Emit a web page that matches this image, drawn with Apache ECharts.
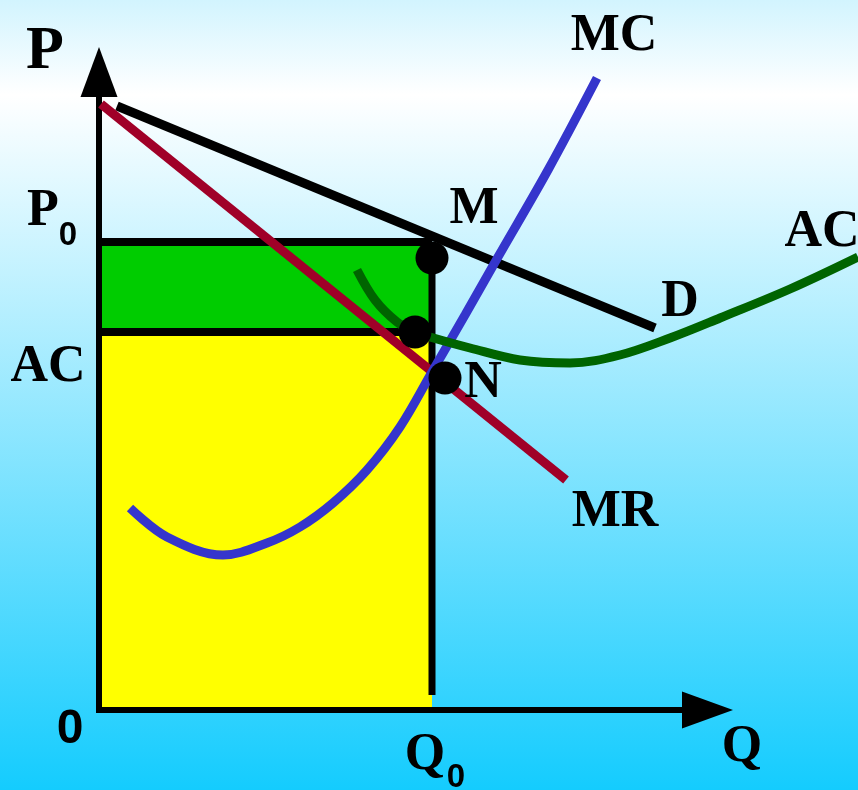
<!DOCTYPE html>
<html>
<head>
<meta charset="utf-8">
<script src="https://cdn.jsdelivr.net/npm/echarts@6/dist/echarts.min.js"></script>
<style>
  html, body { margin: 0; padding: 0; }
  body {
    width: 858px; height: 790px; overflow: hidden;
    background: linear-gradient(to bottom, #d2f4fe 0%, #ffffff 12%, #14ccfe 100%);
  }
  #chart { width: 858px; height: 790px; }
</style>
</head>
<body>
<div id="chart"></div>
<script>
// quantity on x, price on y (one unit = 10 px of the original drawing)
const Q0 = 33.3;
const P0 = 46.8;
const AC0 = 37.8;
const Q0LineBottom = 1.5;

const axisTopQ = [0, 0];
const axisTopP = [-0.3, 61.3];
const axisRightQ = [-0.3, 58.3];
const axisRightP = [0, 0];
const arrowTipQ = [0, 63.4];
const arrowTipP = [66.3, 0];

const demandQ = [1.8, 55.6];
const demandP = [60.4, 38.2];

const mrQ = [0.2, 46.7];
const mrP = [60.6, 23.0];

const mcQ = [3.1, 6.8, 12.4, 16.8, 20.1, 23.4, 26.8, 30.1, 33.3, 36.6, 39.9, 44.9, 49.8];
const mcP = [20.2, 17.3, 15.5, 16.7, 18.3, 20.7, 24.0, 28.3, 33.8, 39.5, 45.3, 54.0, 63.2];

const acQ = [25.8, 27.6, 29.8, 31.6, 33.1, 37.1, 42.1, 47.1, 52.1, 57.1, 62.1, 69.1, 75.9];
const acP = [44.0, 41.0, 38.8, 37.8, 37.3, 36.2, 35.0, 34.7, 35.5, 37.2, 39.2, 42.1, 45.3];

const pointQ = [33.3, 31.6, 34.6];
const pointP = [45.2, 37.8, 33.2];

const labelText = ['P', 'P', '0', 'AC', '0', 'Q', '0', 'Q', 'MC', 'M', 'D', 'AC', 'N', 'MR'];
const labelQ = [-5.4, -5.6, -3.1, -5.1, -2.9, 32.6, 35.7, 64.3, 51.5, 37.5, 58.1, 72.3, 38.4, 51.6];
const labelP = [65.8, 49.8, 47.4, 34.2, -2.0, -4.6, -6.8, -3.8, 67.3, 50.0, 40.7, 47.7, 32.6, 19.7];
const labelKind = ['big', 'serif', 'sub', 'serif', 'sans', 'serif', 'sub', 'serif', 'serif', 'serif', 'serif', 'serif', 'serif', 'serif'];

const zip = (xs, ys) => xs.map((x, i) => [x, ys[i]]);

const fonts = {
  big: { fontFamily: 'Liberation Serif', fontWeight: 'bold', fontSize: 62 },
  serif: { fontFamily: 'Liberation Serif', fontWeight: 'bold', fontSize: 52 },
  sans: { fontFamily: 'Liberation Sans', fontWeight: 'bold', fontSize: 48 },
  sub: { fontFamily: 'Liberation Sans', fontWeight: 'bold', fontSize: 33 }
};

const chart = echarts.init(document.getElementById('chart'));

const lineSeries = (data, color, width, smooth, z) => ({
  type: 'line',
  data: data,
  symbol: 'none',
  smooth: smooth,
  lineStyle: { color: color, width: width, cap: 'butt' },
  silent: true,
  z: z
});

const option = {
  backgroundColor: 'transparent',
  animation: false,
  grid: { left: 0, right: 0, top: 0, bottom: 0 },
  xAxis: { type: 'value', min: -9.9, max: 75.9, show: false },
  yAxis: { type: 'value', min: -8, max: 71, show: false },
  series: [
    // profit / cost rectangles
    {
      type: 'custom',
      data: [[0, 0, Q0, AC0, 0], [0, AC0, Q0, P0, 1]],
      z: 1,
      renderItem: (params, api) => {
        const a = api.coord([api.value(0), api.value(3)]);
        const b = api.coord([api.value(2), api.value(1)]);
        return {
          type: 'rect',
          shape: { x: a[0], y: a[1], width: b[0] - a[0], height: b[1] - a[1] },
          style: { fill: api.value(4) === 0 ? '#ffff00' : '#00cc00' }
        };
      }
    },
    lineSeries([[0, P0], [Q0, P0]], '#000', 8, false, 2),
    lineSeries([[0, AC0], [Q0, AC0]], '#000', 8, false, 2),
    lineSeries([[Q0, P0], [Q0, Q0LineBottom]], '#000', 7, false, 2),
    lineSeries(zip(axisTopQ, axisTopP), '#000', 6, false, 3),
    lineSeries(zip(axisRightQ, axisRightP), '#000', 6, false, 3),
    // arrow heads
    {
      type: 'custom',
      data: [[arrowTipQ[0], arrowTipP[0], 0], [arrowTipQ[1], arrowTipP[1], 1]],
      z: 3,
      renderItem: (params, api) => {
        const p = api.coord([api.value(0), api.value(1)]);
        const pts = api.value(2) === 0
          ? [[p[0], p[1]], [p[0] - 18.5, p[1] + 50], [p[0] + 18.5, p[1] + 50]]
          : [[p[0], p[1]], [p[0] - 51, p[1] - 18.5], [p[0] - 51, p[1] + 18.5]];
        return { type: 'polygon', shape: { points: pts }, style: { fill: '#000' } };
      }
    },
    lineSeries(zip(demandQ, demandP), '#000', 9, false, 4),
    lineSeries(zip(mrQ, mrP), '#a00028', 9, false, 5),
    lineSeries(zip(mcQ, mcP), '#3535cc', 9, 0.35, 6),
    lineSeries(zip(acQ, acP), '#006400', 9, 0.35, 7),
    {
      type: 'scatter',
      data: zip(pointQ, pointP),
      symbolSize: 33,
      itemStyle: { color: '#000', opacity: 1 },
      silent: true,
      z: 8
    },
    // text labels
    {
      type: 'custom',
      data: labelText.map((t, i) => [labelQ[i], labelP[i], i]),
      z: 9,
      renderItem: (params, api) => {
        const i = api.value(2);
        const p = api.coord([api.value(0), api.value(1)]);
        return {
          type: 'text',
          x: p[0],
          y: p[1],
          style: Object.assign({
            text: labelText[i],
            fill: '#000',
            align: 'center',
            verticalAlign: 'middle'
          }, fonts[labelKind[i]])
        };
      }
    }
  ]
};

chart.setOption(option);
</script>
</body>
</html>
